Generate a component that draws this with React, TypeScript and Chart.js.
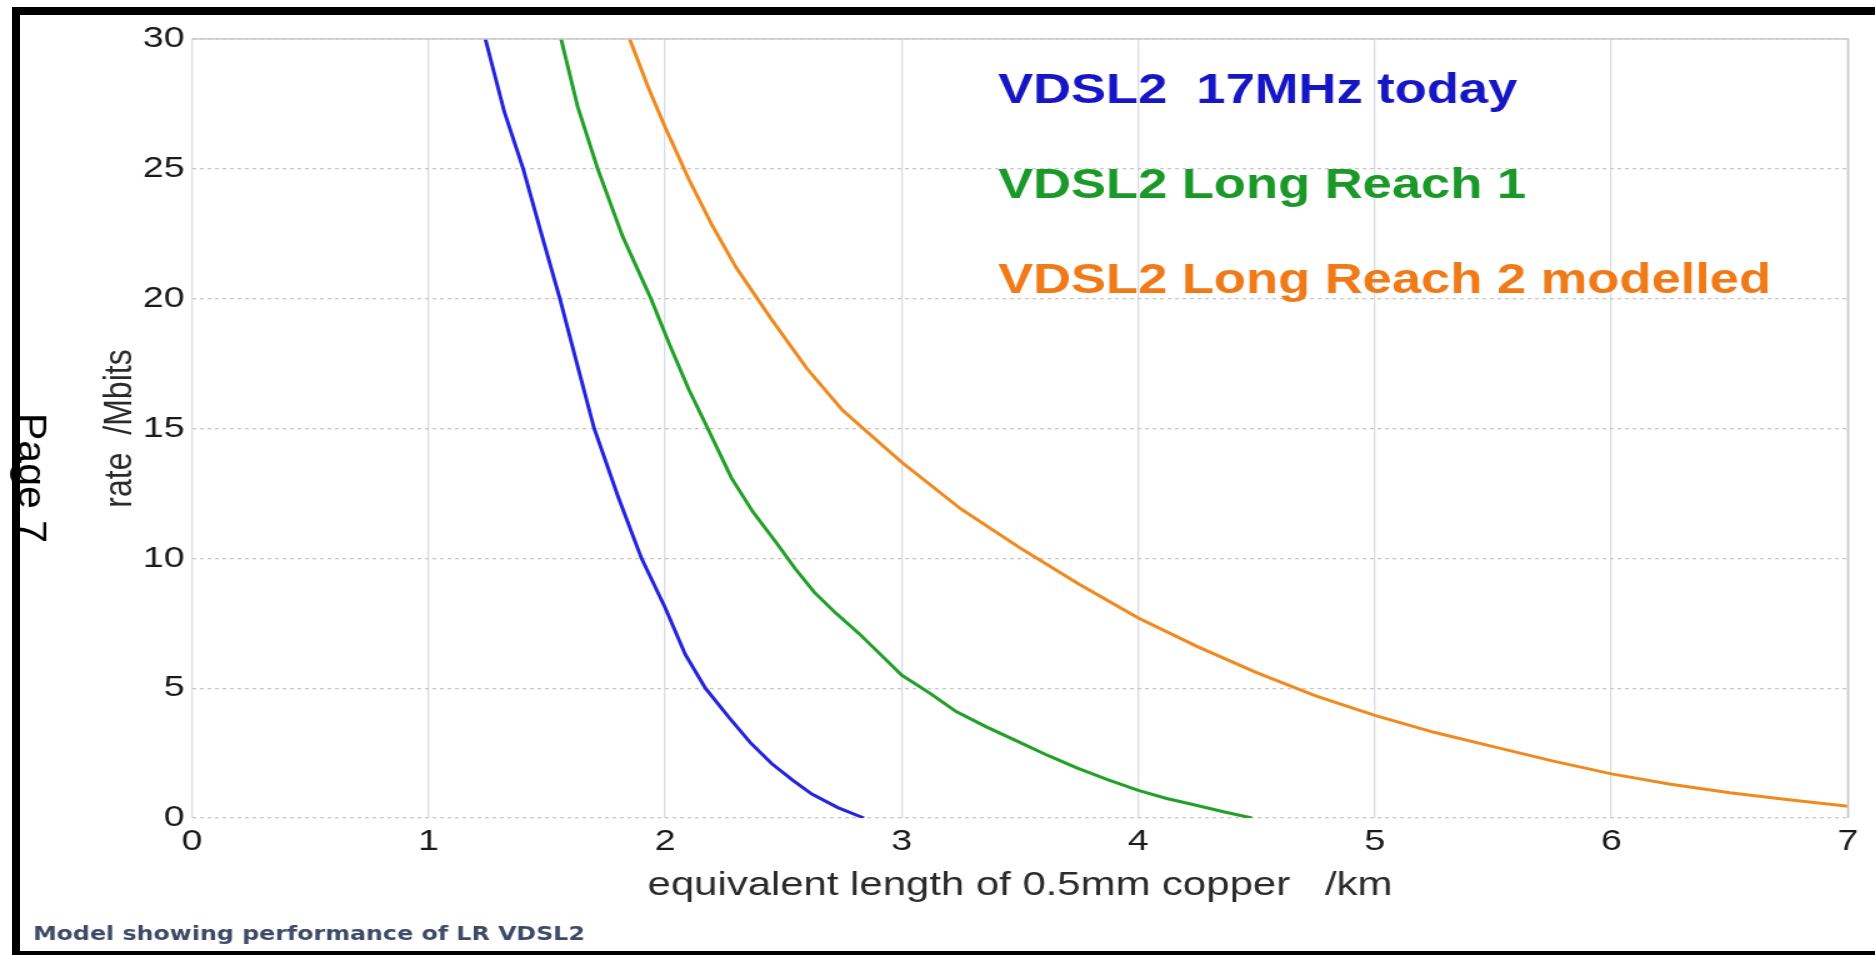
import React, { useEffect, useRef } from "react";
import { Chart, registerables } from "chart.js";

Chart.register(...registerables);

// ---- data ----
const SERIES_LABELS = [
  "VDSL2  17MHz today",
  "VDSL2 Long Reach 1",
  "VDSL2 Long Reach 2 modelled",
];

const KM_BLUE = [1.24, 1.32, 1.4, 1.48, 1.555, 1.63, 1.7, 1.8, 1.9, 2.0, 2.085, 2.17, 2.27, 2.36, 2.45, 2.54, 2.62, 2.73, 2.84];
const RATE_BLUE = [30, 27.2, 25, 22.4, 20, 17.4, 15, 12.4, 10, 8.1, 6.3, 5.0, 3.87, 2.9, 2.1, 1.45, 0.92, 0.4, 0];

const KM_GREEN = [1.56, 1.63, 1.715, 1.82, 1.94, 2.02, 2.1, 2.18, 2.28, 2.37, 2.47, 2.55, 2.63, 2.72, 2.82, 2.91, 3.0, 3.12, 3.23, 3.36, 3.49, 3.62, 3.74, 3.87, 4.0, 4.12, 4.24, 4.36, 4.48];
const RATE_GREEN = [30, 27.4, 25, 22.4, 20, 18.2, 16.5, 15, 13.1, 11.8, 10.6, 9.6, 8.7, 7.9, 7.1, 6.3, 5.5, 4.8, 4.1, 3.5, 2.95, 2.4, 1.93, 1.48, 1.06, 0.75, 0.5, 0.24, 0];

const KM_ORANGE = [1.85, 1.93, 2.0, 2.1, 2.2, 2.3, 2.45, 2.6, 2.75, 2.9, 3.0, 3.25, 3.5, 3.75, 4.0, 4.25, 4.5, 4.75, 5.0, 5.25, 5.5, 5.75, 6.0, 6.25, 6.5, 6.75, 7.0];
const RATE_ORANGE = [30, 28.1, 26.6, 24.6, 22.8, 21.2, 19.2, 17.3, 15.7, 14.5, 13.7, 11.9, 10.4, 9.0, 7.7, 6.6, 5.6, 4.7, 3.95, 3.3, 2.75, 2.2, 1.7, 1.3, 0.97, 0.7, 0.45];

const X_TICKS = [0, 1, 2, 3, 4, 5, 6, 7];
const Y_TICKS = [0, 5, 10, 15, 20, 25, 30];

const X_TITLE = "equivalent length of 0.5mm copper   /km";
const Y_TITLE = "rate  /Mbits";
const PAGE_TEXT = "Page 7";
const CAPTION = "Model showing performance of LR VDSL2";

// ---- style ----
const LINE_COLORS = ["#2424de", "#22a028", "#f08a1e"];
const TEXT_COLORS = ["#1616c4", "#1a9828", "#f07a18"];
const STRETCH = 1.25; // the picture is stretched horizontally
const W = 1875;
const H = 955;
const IW = W / STRETCH;

const toPts = (xs: number[], ys: number[]) => xs.map((x, i) => ({ x, y: ys[i] }));

const decorPlugin = {
  id: "decor",
  afterDraw(chart: any) {
    const { ctx, chartArea } = chart;
    ctx.save();
    // solid top and right frame of plot
    ctx.strokeStyle = "#c9c9cc";
    ctx.lineWidth = 1.6;
    ctx.setLineDash([]);
    ctx.beginPath();
    ctx.moveTo(chartArea.left, chartArea.top);
    ctx.lineTo(chartArea.right, chartArea.top);
    ctx.lineTo(chartArea.right, chartArea.bottom);
    ctx.stroke();

    // in-plot legend
    ctx.font = 'bold 42px "Liberation Sans", Arial, sans-serif';
    ctx.textAlign = "left";
    ctx.textBaseline = "alphabetic";
    const baselines = [103, 198, 293];
    chart.data.datasets.forEach((ds: any, i: number) => {
      ctx.fillStyle = TEXT_COLORS[i];
      ctx.fillText(ds.label, 798.4, baselines[i]);
    });

    // "Page 7" rotated text
    ctx.save();
    ctx.translate(15, 413);
    ctx.scale(0.76, 1);
    ctx.rotate(Math.PI / 2);
    ctx.font = '41px "Liberation Sans", Arial, sans-serif';
    ctx.fillStyle = "#000";
    ctx.textBaseline = "alphabetic";
    ctx.fillText(PAGE_TEXT, 0, 0);
    ctx.restore();

    // caption
    ctx.font = 'bold 19px "DejaVu Sans", Verdana, sans-serif';
    ctx.fillStyle = "#3e4a68";
    ctx.textAlign = "left";
    ctx.fillText(CAPTION, 26.4, 940);
    ctx.restore();
  },
};

export default function App() {
  const ref = useRef<HTMLCanvasElement | null>(null);

  useEffect(() => {
    const canvas = ref.current;
    if (!canvas) return;
    const chart = new Chart(canvas, {
      type: "line",
      data: {
        datasets: [
          { label: SERIES_LABELS[0], data: toPts(KM_BLUE, RATE_BLUE) },
          { label: SERIES_LABELS[1], data: toPts(KM_GREEN, RATE_GREEN) },
          { label: SERIES_LABELS[2], data: toPts(KM_ORANGE, RATE_ORANGE) },
        ].map((d, i) => ({
          ...d,
          borderColor: LINE_COLORS[i],
          backgroundColor: LINE_COLORS[i],
          borderWidth: 3,
          pointRadius: 0,
          tension: 0,
          fill: false,
        })),
      },
      options: {
        animation: false,
        responsive: false,
        devicePixelRatio: 1,
        layout: { padding: { left: 60, top: 39, right: 21.6, bottom: 49 } },
        plugins: {
          legend: { display: false },
          tooltip: { enabled: false },
        },
        scales: {
          x: {
            type: "linear",
            min: X_TICKS[0],
            max: X_TICKS[X_TICKS.length - 1],
            afterBuildTicks: (s: any) => {
              s.ticks = X_TICKS.map((v) => ({ value: v }));
            },
            afterFit: (s: any) => {
              s.height = 88;
            },
            ticks: {
              color: "#1a1a1a",
              font: { family: '"Liberation Sans", Arial, sans-serif', size: 30 },
              padding: 6,
              maxRotation: 0,
            },
            grid: { color: "#d9dce4", lineWidth: 1.3, drawTicks: false },
            border: { display: false, dash: [] },
            title: {
              display: true,
              text: X_TITLE,
              color: "#2a2a2a",
              font: { family: '"Liberation Sans", Arial, sans-serif', size: 33.5 },
              padding: { top: 0, bottom: 0 },
            },
          },
          y: {
            type: "linear",
            min: Y_TICKS[0],
            max: Y_TICKS[Y_TICKS.length - 1],
            afterBuildTicks: (s: any) => {
              s.ticks = Y_TICKS.map((v) => ({ value: v }));
            },
            afterFit: (s: any) => {
              s.width = 93.6;
            },
            ticks: {
              color: "#1a1a1a",
              font: { family: '"Liberation Sans", Arial, sans-serif', size: 30 },
              padding: 6,
            },
            grid: { color: "#c8c8c8", lineWidth: 1.3, drawTicks: false },
            border: { display: false, dash: [3, 3] },
            title: {
              display: true,
              text: Y_TITLE,
              color: "#2a2a2a",
              font: { family: '"Liberation Sans", Arial, sans-serif', size: 32 },
              padding: { top: 16.6, bottom: 0 },
            },
          },
        },
      },
      plugins: [decorPlugin],
    } as any);
    return () => chart.destroy();
  }, []);

  return (
    <div style={{ position: "absolute", left: 0, top: 0, width: W, height: H, background: "#fff", overflow: "hidden" }}>
      <canvas
        ref={ref}
        width={IW}
        height={H}
        style={{ width: `${W}px`, height: `${H}px`, display: "block" }}
      />
      <div
        style={{
          position: "absolute",
          left: 12,
          top: 7,
          right: -10,
          bottom: 0,
          borderLeft: "8px solid #000",
          borderTop: "8px solid #000",
          borderBottom: "4px solid #000",
          pointerEvents: "none",
        }}
      />
    </div>
  );
}
